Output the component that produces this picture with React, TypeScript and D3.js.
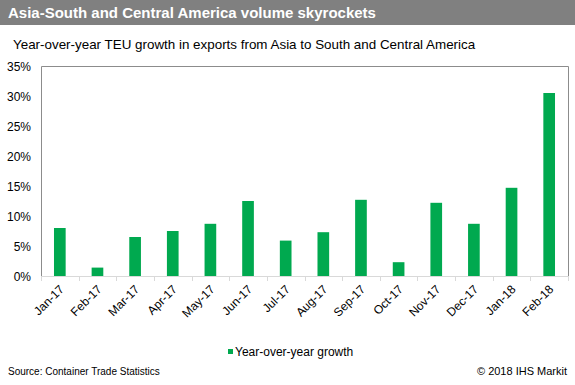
import React from "react";
import * as d3 from "d3";

const categories = ["Jan-17","Feb-17","Mar-17","Apr-17","May-17","Jun-17","Jul-17","Aug-17","Sep-17","Oct-17","Nov-17","Dec-17","Jan-18","Feb-18"];
const growth = [8.0, 1.4, 6.5, 7.5, 8.7, 12.5, 5.9, 7.3, 12.7, 2.3, 12.2, 8.7, 14.7, 30.5];
const yTicks = [0, 5, 10, 15, 20, 25, 30, 35];
const title = "Asia-South and Central America volume skyrockets";
const subtitle = "Year-over-year TEU growth in exports from Asia to South and Central America";
const seriesName = "Year-over-year growth";
const source = "Source: Container Trade Statistics";
const credit = "© 2018 IHS Markit";

const W = 575, H = 385;
const font = "'Liberation Sans', Arial, sans-serif";

export default function App() {
  const left = 41, right = 568, top = 66, bottom = 276;
  const x = d3.scaleBand<string>().domain(categories).range([left, right]).paddingInner(0.69).paddingOuter(0.345);
  const xb = d3.scaleBand<string>().domain(categories).range([left, right]);
  const y = d3.scaleLinear().domain([0, 35]).range([bottom, top]);
  const green = "#00a94f";
  return (
    <svg width={W} height={H} style={{ position: "absolute", left: 0, top: 0, display: "block" }} fontFamily={font}>
      <rect x={0} y={0} width={W} height={H} fill="#fff" />
      <rect x={0} y={0} width={W} height={25} fill="#808080" />
      <text x={8} y={18} fill="#fff" fontWeight="bold" fontSize={15}>{title}</text>
      <text x={13} y={49} fill="#000" fontSize={13.4}>{subtitle}</text>
      {/* plot frame */}
      <path d={`M${left + 0.5},${bottom}V${top + 0.5}H${right + 0.5}V${bottom}`} fill="none" stroke="#8c8c8c" strokeWidth={1} />
      {yTicks.map((t) => (
        <text key={t} x={31} y={y(t) + 4.5} textAnchor="end" fontSize={12} fill="#000">{t + "%"}</text>
      ))}
      {categories.map((c, i) => (
        <rect key={c} x={x(c)!} y={y(growth[i])} width={x.bandwidth()} height={bottom - y(growth[i])} fill={green} />
      ))}
      <line x1={left} x2={right + 1} y1={bottom + 0.5} y2={bottom + 0.5} stroke="#d9d9d9" />
      {categories.map((c) => (
        <line key={"t" + c} x1={Math.round(xb(c)!) + 0.5} x2={Math.round(xb(c)!) + 0.5} y1={bottom} y2={bottom + 5} stroke="#d9d9d9" />
      ))}
      <line x1={right + 0.5} x2={right + 0.5} y1={bottom} y2={bottom + 5} stroke="#d9d9d9" />
      {categories.map((c) => {
        const cx = xb(c)! + xb.bandwidth() / 2 + 5;
        const cy = bottom + 14;
        return (
          <text key={"l" + c} x={cx} y={cy} textAnchor="end" fontSize={12} fill="#000" transform={`rotate(-45 ${cx} ${cy})`}>{c}</text>
        );
      })}
      <rect x={228} y={349} width={5} height={5} fill={green} />
      <text x={235} y={356} fontSize={12} fill="#000">{seriesName}</text>
      <text x={8} y={375} fontSize={10} fill="#000">{source}</text>
      <text x={567} y={375} textAnchor="end" fontSize={11} fill="#000">{credit}</text>
    </svg>
  );
}
